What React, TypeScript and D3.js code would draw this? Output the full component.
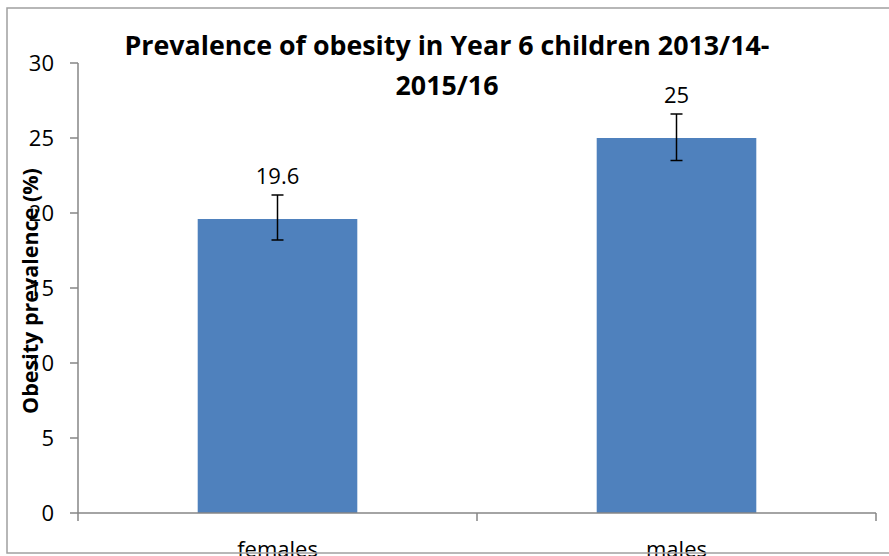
import React from "react";
import * as d3 from "d3";

const categories = ["females", "males"];
const values = [19.6, 25];
const errLow = [18.2, 23.5];
const errHigh = [21.2, 26.6];
const yTicks = [0, 5, 10, 15, 20, 25, 30];
const titleLines = ["Prevalence of obesity in Year 6 children 2013/14-", "2015/16"];
const yLabel = "Obesity prevalence (%)";

const W = 889;
const H = 556;
const plot = { left: 78, right: 876, top: 63, bottom: 513 };
const FONT = "'Open Sans', 'Noto Sans', sans-serif";

export default function App() {
  const x = d3.scaleBand<string>().domain(categories).range([plot.left, plot.right]).padding(0);
  const y = d3.scaleLinear().domain([0, 30]).range([plot.bottom, plot.top]);
  const bw = x.bandwidth() * 0.4;
  const axisColor = "#868686";

  return (
    <svg
      width={W}
      height={H}
      style={{ position: "absolute", left: 0, top: 0, background: "#fff" }}
      fontFamily={FONT}
    >
      <rect x={0} y={0} width={W} height={H} fill="#fff" />
      {/* bars */}
      {categories.map((c, i) => {
        const cx = (x(c) as number) + x.bandwidth() / 2;
        return (
          <g key={c}>
            <rect x={cx - bw / 2} y={y(values[i])} width={bw} height={y(0) - y(values[i])} fill="#4F81BD" />
            <line x1={cx} x2={cx} y1={y(errHigh[i])} y2={y(errLow[i])} stroke="#000" strokeWidth={1.5} />
            <line x1={cx - 6} x2={cx + 6} y1={y(errHigh[i])} y2={y(errHigh[i])} stroke="#000" strokeWidth={1.5} />
            <line x1={cx - 6} x2={cx + 6} y1={y(errLow[i])} y2={y(errLow[i])} stroke="#000" strokeWidth={1.5} />
            <text x={cx} y={y(values[i]) - 35} textAnchor="middle" fontSize={22} fill="#000">
              {String(values[i])}
            </text>
            <text x={cx} y={557} textAnchor="middle" fontSize={22} fill="#000">
              {c}
            </text>
          </g>
        );
      })}
      {/* y axis */}
      <line x1={plot.left} x2={plot.left} y1={y(30)} y2={y(0)} stroke={axisColor} strokeWidth={1.5} />
      {yTicks.map((t) => (
        <g key={t}>
          <line x1={plot.left - 8} x2={plot.left} y1={y(t)} y2={y(t)} stroke={axisColor} strokeWidth={1.5} />
          <text x={54} y={y(t)} dy="0.35em" textAnchor="end" fontSize={22} fill="#000">
            {t}
          </text>
        </g>
      ))}
      {/* x axis */}
      <line x1={plot.left} x2={plot.right} y1={y(0)} y2={y(0)} stroke={axisColor} strokeWidth={1.5} />
      {[plot.left, plot.left + x.bandwidth(), plot.right].map((px, i) => (
        <line key={i} x1={px} x2={px} y1={y(0)} y2={y(0) + 8} stroke={axisColor} strokeWidth={1.5} />
      ))}
      {/* y label */}
      <text
        transform={`translate(38,291) rotate(-90)`}
        textAnchor="middle"
        fontSize={21.5}
        fontWeight="bold"
        fill="#000"
      >
        {yLabel}
      </text>
      {/* title */}
      {titleLines.map((t, i) => (
        <text key={i} x={447} y={55 + i * 40} textAnchor="middle" fontSize={26.8} fontWeight="bold" fill="#000">
          {t}
        </text>
      ))}
      {/* frame */}
      <rect x={7} y={8} width={W} height={545} fill="none" stroke="#a0a0a0" strokeWidth={1.5} />
    </svg>
  );
}
